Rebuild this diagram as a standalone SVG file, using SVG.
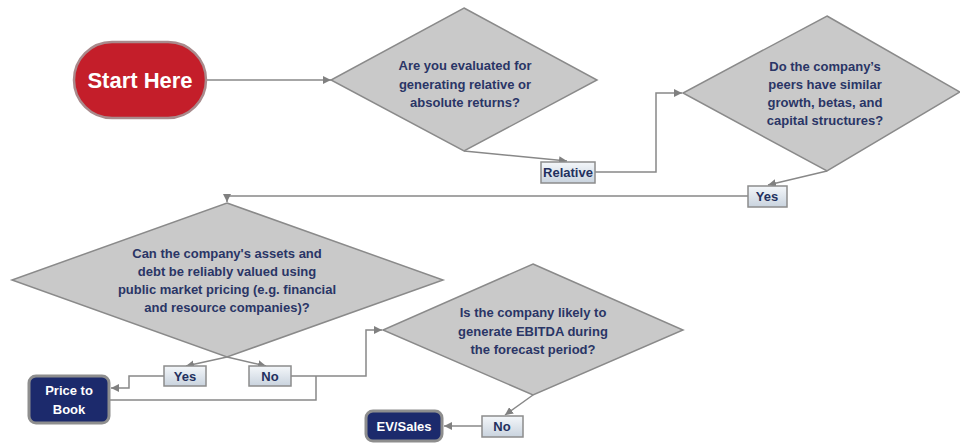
<svg xmlns="http://www.w3.org/2000/svg" width="960" height="445" viewBox="0 0 960 445">
<defs>
<marker id="arr" viewBox="0 0 8 8" refX="8" refY="4" markerWidth="8" markerHeight="8" markerUnits="userSpaceOnUse" orient="auto">
<path d="M0,0 L8,4 L0,8 z" fill="#808080"/>
</marker>
<linearGradient id="lbl" x1="0" y1="0" x2="0" y2="1">
<stop offset="0" stop-color="#f4f7fa"/>
<stop offset="1" stop-color="#c9d3de"/>
</linearGradient>
</defs>
<style>
.dia{fill:#c9c9c9;stroke:#8a8a8a;stroke-width:1.5}
.q{font-family:"Liberation Sans",Arial,sans-serif;font-weight:bold;font-size:13px;fill:#2a3566;text-anchor:middle}
.lbl{fill:url(#lbl);stroke:#8c8c8c;stroke-width:1.5}
.lt{font-family:"Liberation Sans",Arial,sans-serif;font-weight:bold;font-size:13px;fill:#23305e;text-anchor:middle}
.term{fill:#1c2a6c;stroke:#8e8e8e;stroke-width:3}
.tt{font-family:"Liberation Sans",Arial,sans-serif;font-weight:bold;font-size:13px;fill:#ffffff;text-anchor:middle}
.c{fill:none;stroke:#888888;stroke-width:1.5}
</style>
<rect width="960" height="445" fill="#ffffff"/>
<g id="connectors">
<path class="c" d="M206,80 H331" marker-end="url(#arr)"/>
<path class="c" d="M464,151 L567,161" marker-end="url(#arr)"/>
<path class="c" d="M595,172 H656 V93 H682" marker-end="url(#arr)"/>
<path class="c" d="M827,171 L768,185" marker-end="url(#arr)"/>
<path class="c" d="M748,196 H227 V202" marker-end="url(#arr)"/>
<path class="c" d="M227,357 L186,366" marker-end="url(#arr)"/>
<path class="c" d="M227,357 L266,366" marker-end="url(#arr)"/>
<path class="c" d="M164,376 H129 V388 H111" marker-end="url(#arr)"/>
<path class="c" d="M291,376 H366 V330 H382" marker-end="url(#arr)"/>
<path class="c" d="M316,376 V400 H110"/>
<path class="c" d="M533,395 L505,415" marker-end="url(#arr)"/>
<path class="c" d="M482,426 H444" marker-end="url(#arr)"/>
</g>
<g id="start">
<rect x="74" y="42" width="132" height="76" rx="38" ry="38" fill="#c41e2a" stroke="#a98a8c" stroke-width="2.5"/>
<text x="140" y="88" font-family="'Liberation Sans',Arial,sans-serif" font-weight="bold" font-size="22" fill="#ffffff" text-anchor="middle">Start Here</text>
</g>
<g id="q1">
<polygon class="dia" points="464,8 597,80 464,151 331,80"/>
<text class="q" x="465" y="70">Are you evaluated for</text>
<text class="q" x="465" y="89">generating relative or</text>
<text class="q" x="465" y="107">absolute returns?</text>
</g>
<g id="relative">
<rect class="lbl" x="541" y="162" width="54" height="21"/>
<text class="lt" x="568" y="177">Relative</text>
</g>
<g id="q2">
<polygon class="dia" points="827,16 960,92 827,171 683,93"/>
<text class="q" x="825" y="71">Do the company’s</text>
<text class="q" x="825" y="89">peers have similar</text>
<text class="q" x="825" y="107">growth, betas, and</text>
<text class="q" x="825" y="125">capital structures?</text>
</g>
<g id="yes1">
<rect class="lbl" x="748" y="186" width="39" height="21"/>
<text class="lt" x="767" y="201">Yes</text>
</g>
<g id="q3">
<polygon class="dia" points="227,203 443,280 227,357 12,280"/>
<text class="q" x="227" y="258">Can the company's assets and</text>
<text class="q" x="227" y="276">debt be reliably valued using</text>
<text class="q" x="227" y="294">public market pricing (e.g. financial</text>
<text class="q" x="227" y="312">and resource companies)?</text>
</g>
<g id="yes2">
<rect class="lbl" x="164" y="366" width="42" height="20"/>
<text class="lt" x="185" y="381">Yes</text>
</g>
<g id="no2">
<rect class="lbl" x="249" y="366" width="42" height="20"/>
<text class="lt" x="270" y="381">No</text>
</g>
<g id="ptb">
<rect class="term" x="29" y="376" width="80" height="47" rx="7"/>
<text class="tt" x="69" y="395">Price to</text>
<text class="tt" x="69" y="414">Book</text>
</g>
<g id="q4">
<polygon class="dia" points="533,264 683,330 533,395 383,330"/>
<text class="q" x="533" y="317">Is the company likely to</text>
<text class="q" x="533" y="336">generate EBITDA during</text>
<text class="q" x="533" y="354">the forecast period?</text>
</g>
<g id="no3">
<rect class="lbl" x="482" y="416" width="41" height="21"/>
<text class="lt" x="502" y="431">No</text>
</g>
<g id="evsales">
<rect class="term" x="366" y="411" width="76" height="30" rx="7"/>
<text class="tt" x="404" y="431">EV/Sales</text>
</g>
</svg>
